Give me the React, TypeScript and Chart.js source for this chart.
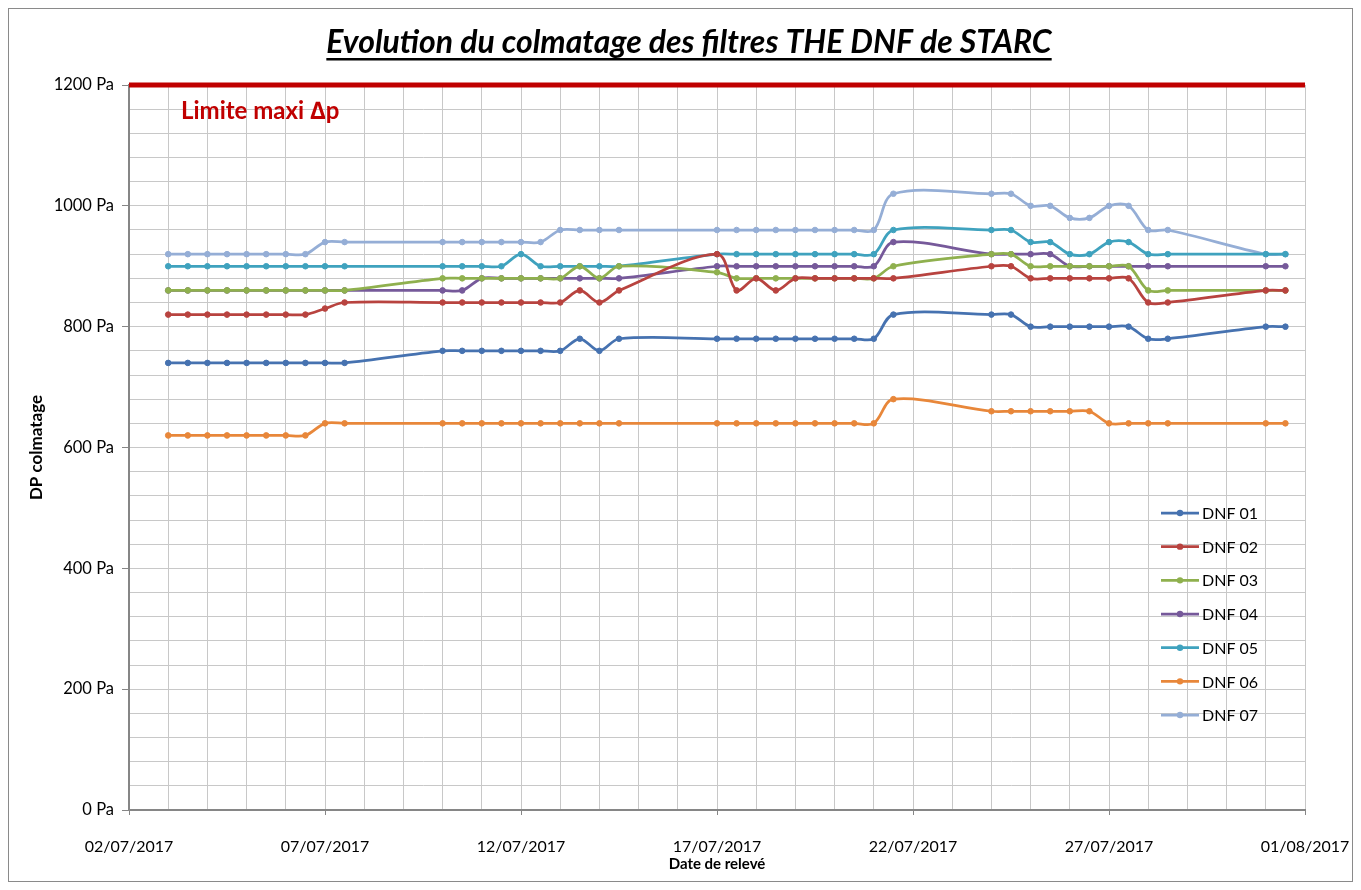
import { useEffect, useRef } from 'react';
import { Chart, registerables } from 'chart.js';

Chart.register(...registerables);

// ---- data ----
const TITLE = 'Evolution du colmatage des filtres THE DNF de STARC';
const X_TITLE = 'Date de relevé';
const Y_TITLE = 'DP colmatage';
const LIMIT_LABEL = 'Limite maxi \u2206p';
const LIMIT = 1200;

// x axis: days since 02/07/2017
const X_MIN = 0;
const X_MAX = 30;
const X_TICK_LABELS = ['02/07/2017', '07/07/2017', '12/07/2017', '17/07/2017', '22/07/2017', '27/07/2017', '01/08/2017'];
const Y_MAX = 1200;

const DAYS = [
  1, 1.5, 2, 2.5, 3, 3.5, 4, 4.5, 5, 5.5,
  8, 8.5, 9, 9.5, 10, 10.5, 11, 11.5, 12, 12.5,
  15, 15.5, 16, 16.5, 17, 17.5, 18, 18.5, 19, 19.5,
  22, 22.5, 23, 23.5, 24, 24.5, 25, 25.5, 26, 26.5, 29, 29.5,
];

const SERIES_NAMES = ['DNF 01', 'DNF 02', 'DNF 03', 'DNF 04', 'DNF 05', 'DNF 06', 'DNF 07'];

const DNF01 = [
  740, 740, 740, 740, 740, 740, 740, 740, 740, 740,
  760, 760, 760, 760, 760, 760, 760, 780, 760, 780,
  780, 780, 780, 780, 780, 780, 780, 780, 780, 820,
  820, 820, 800, 800, 800, 800, 800, 800, 780, 780, 800, 800,
];
const DNF02 = [
  820, 820, 820, 820, 820, 820, 820, 820, 830, 840,
  840, 840, 840, 840, 840, 840, 840, 860, 840, 860,
  920, 860, 880, 860, 880, 880, 880, 880, 880, 880,
  900, 900, 880, 880, 880, 880, 880, 880, 840, 840, 860, 860,
];
const DNF03 = [
  860, 860, 860, 860, 860, 860, 860, 860, 860, 860,
  880, 880, 880, 880, 880, 880, 880, 900, 880, 900,
  890, 880, 880, 880, 880, 880, 880, 880, 880, 900,
  920, 920, 900, 900, 900, 900, 900, 900, 860, 860, 860, 860,
];
const DNF04 = [
  860, 860, 860, 860, 860, 860, 860, 860, 860, 860,
  860, 860, 880, 880, 880, 880, 880, 880, 880, 880,
  900, 900, 900, 900, 900, 900, 900, 900, 900, 940,
  920, 920, 920, 920, 900, 900, 900, 900, 900, 900, 900, 900,
];
const DNF05 = [
  900, 900, 900, 900, 900, 900, 900, 900, 900, 900,
  900, 900, 900, 900, 920, 900, 900, 900, 900, 900,
  920, 920, 920, 920, 920, 920, 920, 920, 920, 960,
  960, 960, 940, 940, 920, 920, 940, 940, 920, 920, 920, 920,
];
const DNF06 = [
  620, 620, 620, 620, 620, 620, 620, 620, 640, 640,
  640, 640, 640, 640, 640, 640, 640, 640, 640, 640,
  640, 640, 640, 640, 640, 640, 640, 640, 640, 680,
  660, 660, 660, 660, 660, 660, 640, 640, 640, 640, 640, 640,
];
const DNF07 = [
  920, 920, 920, 920, 920, 920, 920, 920, 940, 940,
  940, 940, 940, 940, 940, 940, 960, 960, 960, 960,
  960, 960, 960, 960, 960, 960, 960, 960, 960, 1020,
  1020, 1020, 1000, 1000, 980, 980, 1000, 1000, 960, 960, 920, 920,
];

const SERIES_VALUES = [DNF01, DNF02, DNF03, DNF04, DNF05, DNF06, DNF07];
const SERIES_COLORS = ['#4672B0', '#B8433F', '#8FB04E', '#76599A', '#3FA2BE', '#E8873A', '#95AED6'];

// ---- styles ----
const FONT = 'Lato, "Open Sans", sans-serif';
const AXIS_COLOR = '#868686';
const GRID_COLOR = '#C8C8C8';
const LIMIT_COLOR = '#C00000';

const decorPlugin = {
  id: 'decor',
  afterDraw(chart: any) {
    const ctx = chart.ctx as CanvasRenderingContext2D;
    const area = chart.chartArea;
    ctx.save();

    // Title, underlined
    ctx.fillStyle = '#000';
    ctx.font = `italic bold 32px ${FONT}`;
    ctx.textAlign = 'center';
    ctx.textBaseline = 'alphabetic';
    const tx = 680;
    const ty = 44;
    ctx.fillText(TITLE, tx, ty);
    const tw = ctx.measureText(TITLE).width;
    ctx.fillRect(tx - tw / 2, ty + 5, tw, 2.5);

    // limit label
    ctx.fillStyle = LIMIT_COLOR;
    ctx.font = `bold 24px ${FONT}`;
    ctx.textAlign = 'left';
    ctx.fillText(LIMIT_LABEL, area.left + 52, area.top + 34);

    // axis titles
    ctx.fillStyle = '#000';
    ctx.font = `bold 15px ${FONT}`;
    ctx.textAlign = 'center';
    ctx.textBaseline = 'middle';
    ctx.fillText(X_TITLE, (area.left + area.right) / 2, 855);
    ctx.save();
    ctx.font = `bold 17px ${FONT}`;
    ctx.translate(28, (area.top + area.bottom) / 2);
    ctx.rotate(-Math.PI / 2);
    ctx.fillText(Y_TITLE, 0, 0);
    ctx.restore();

    // legend
    ctx.font = `16px ${FONT}`;
    ctx.textAlign = 'left';
    ctx.textBaseline = 'middle';
    const lx = area.right - 144;
    const ly0 = 504;
    const step = 33.67;
    SERIES_NAMES.forEach((name, i) => {
      const y = ly0 + i * step;
      const c = SERIES_COLORS[i];
      ctx.strokeStyle = c;
      ctx.lineWidth = 2.75;
      ctx.beginPath();
      ctx.moveTo(lx, y);
      ctx.lineTo(lx + 38, y);
      ctx.stroke();
      ctx.fillStyle = c;
      ctx.beginPath();
      ctx.arc(lx + 19, y, 3.2, 0, Math.PI * 2);
      ctx.fill();
      ctx.fillStyle = '#000';
      ctx.fillText(name, lx + 41, y + 1);
    });

    ctx.restore();
  },
};

export default function App() {
  const ref = useRef<HTMLCanvasElement | null>(null);

  useEffect(() => {
    if (!ref.current) return;
    const datasets: any[] = SERIES_NAMES.map((name, i) => ({
      label: name,
      data: DAYS.map((d, j) => ({ x: d, y: SERIES_VALUES[i][j] })),
      borderColor: SERIES_COLORS[i],
      backgroundColor: SERIES_COLORS[i],
      pointBackgroundColor: SERIES_COLORS[i],
      pointBorderColor: SERIES_COLORS[i],
      pointRadius: 2.8,
      pointBorderWidth: 1,
      borderWidth: 2.75,
      tension: 0.33,
      fill: false,
    }));
    datasets.push({
      label: 'limit',
      data: [{ x: X_MIN, y: LIMIT }, { x: X_MAX, y: LIMIT }],
      borderColor: LIMIT_COLOR,
      borderWidth: 5,
      pointRadius: 0,
      tension: 0,
      clip: false,
      fill: false,
    });

    const chart = new Chart(ref.current, {
      type: 'line',
      data: { datasets },
      plugins: [decorPlugin],
      options: {
        animation: false,
        responsive: false,
        maintainAspectRatio: false,
        layout: { padding: { top: 76, right: 47, left: 0, bottom: 0 } },
        plugins: {
          legend: { display: false },
          title: { display: false },
          tooltip: { enabled: false },
        },
        scales: {
          x: {
            type: 'linear',
            min: X_MIN,
            max: X_MAX,
            ticks: {
              stepSize: 1,
              autoSkip: false,
              maxRotation: 0,
              minRotation: 0,
              padding: 22,
              color: '#000',
              font: { family: FONT, size: 16 },
              callback: (v: any) => (Number(v) % 5 === 0 ? X_TICK_LABELS[Number(v) / 5] : ''),
            },
            grid: {
              color: GRID_COLOR,
              lineWidth: 1,
              tickLength: 5,
              tickColor: (c: any) => (c.tick && Number(c.tick.value) % 5 === 0 ? AXIS_COLOR : 'rgba(0,0,0,0)'),
            },
            border: { color: AXIS_COLOR, width: 2 },
            afterFit: (s: any) => {
              s.height = 71;
              s.paddingLeft = 0;
              s.paddingRight = 0;
            },
          },
          y: {
            type: 'linear',
            min: 0,
            max: Y_MAX,
            ticks: {
              stepSize: 40,
              autoSkip: false,
              padding: 8,
              color: '#000',
              font: { family: FONT, size: 16.5 },
              callback: (v: any) => (Math.round(Number(v)) % 200 === 0 ? `${Math.round(Number(v))} Pa` : ''),
            },
            grid: {
              color: GRID_COLOR,
              lineWidth: 1,
              tickLength: 7,
              tickColor: (c: any) => (c.tick && Math.round(Number(c.tick.value)) % 200 === 0 ? AXIS_COLOR : 'rgba(0,0,0,0)'),
            },
            border: { color: AXIS_COLOR, width: 2 },
            afterFit: (s: any) => {
              s.width = 120;
              s.paddingTop = 0;
              s.paddingBottom = 0;
            },
          },
        },
      },
    } as any);

    let alive = true;
    if ((document as any).fonts && (document as any).fonts.ready) {
      (document as any).fonts.ready.then(() => {
        if (alive) chart.update();
      });
    }
    return () => {
      alive = false;
      chart.destroy();
    };
  }, []);

  return (
    <div
      style={{
        width: 1345,
        height: 874,
        border: '1px solid #8A8A8A',
        boxSizing: 'border-box',
        background: '#fff',
      }}
    >
      <canvas ref={ref} width={1343} height={872} style={{ display: 'block', width: 1343, height: 872 }} />
    </div>
  );
}
